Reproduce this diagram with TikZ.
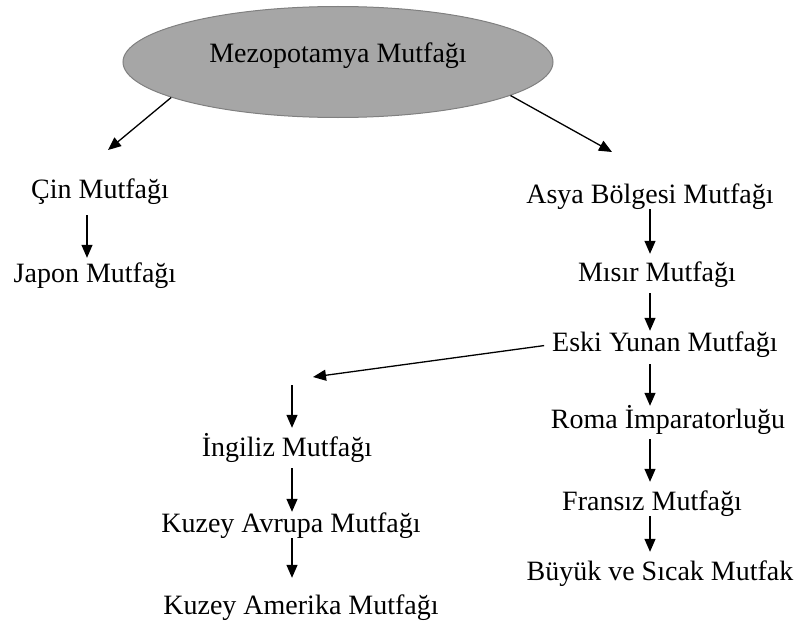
\documentclass[tikz,border=0pt]{standalone}
\usepackage{fontspec}
\setmainfont{Liberation Serif}
\usetikzlibrary{shapes.geometric,arrows.meta}
\begin{document}
\begin{tikzpicture}[x=1pt,y=-1pt,
  yazi/.style={font=\fontsize{28}{34}\selectfont, inner sep=0pt, anchor=base, text height=19pt, text depth=6pt},
  ok/.style={-{Triangle[length=13pt,width=11pt]}, line width=1.3pt}]
  \useasboundingbox (0,0) rectangle (797,626);
  \node[ellipse, fill=gray!70, draw=gray, line width=1pt, minimum width=430pt, minimum height=111pt, inner sep=0pt, font=\fontsize{28}{34}\selectfont, text height=19pt, text depth=18pt] (mezo) at (338,62) {Mezopotamya Mutfağı};
  \node[yazi] (cin) at (100,198) {Çin Mutfağı};
  \node[yazi] (japon) at (95,282) {Japon Mutfağı};
  \node[yazi] (asya) at (650,203) {Asya Bölgesi Mutfağı};
  \node[yazi] (misir) at (657,281) {Mısır Mutfağı};
  \node[yazi] (eski) at (665,351) {Eski Yunan Mutfağı};
  \node[yazi] (roma) at (668,428) {Roma İmparatorluğu};
  \node[yazi] (fransiz) at (652,510) {Fransız Mutfağı};
  \node[yazi] (buyuk) at (660,580) {Büyük ve Sıcak Mutfak};
  \node[yazi] (ingiliz) at (287,456) {İngiliz Mutfağı};
  \node[yazi] (kavrupa) at (291,532) {Kuzey Avrupa Mutfağı};
  \node[yazi] (kamerika) at (301,614) {Kuzey Amerika Mutfağı};
  \coordinate (cinok) at (108,150);
  \coordinate (asyaok) at (612,152);
  \coordinate (yunanok) at (313,377);
  \coordinate (kolbas) at (292,385);
  \draw[ok] (mezo.192) -- (cinok);
  \draw[ok] (mezo.-11) -- (asyaok);
  \draw[ok, shorten <=11pt, shorten >=5pt] ([xshift=-13pt]cin.south) -- ([xshift=-13pt]cin.south |- japon.north);
  \draw[ok, shorten >=8pt] (asya.south) -- (asya.south |- misir.north);
  \draw[ok, shorten <=6pt, shorten >=1pt] (misir.south -| asya) -- (eski.north -| asya);
  \draw[ok, shorten <=7pt, shorten >=3pt] (eski.south -| asya) -- (roma.north -| asya);
  \draw[ok, shorten <=5pt, shorten >=9pt] (roma.south -| asya) -- (fransiz.north -| asya);
  \draw[ok, shorten >=9pt] (fransiz.south -| asya) -- (buyuk.north -| asya);
  \draw[ok, shorten <=8pt] (eski.west) -- (yunanok);
  \draw[ok, shorten >=9pt] (kolbas) -- (kolbas |- ingiliz.north);
  \draw[ok, shorten <=6pt, shorten >=1pt] (ingiliz.south -| kolbas) -- (kavrupa.north -| kolbas);
  \draw[ok, shorten >=17pt] (kavrupa.south -| kolbas) -- (kamerika.north -| kolbas);
\end{tikzpicture}
\end{document}
